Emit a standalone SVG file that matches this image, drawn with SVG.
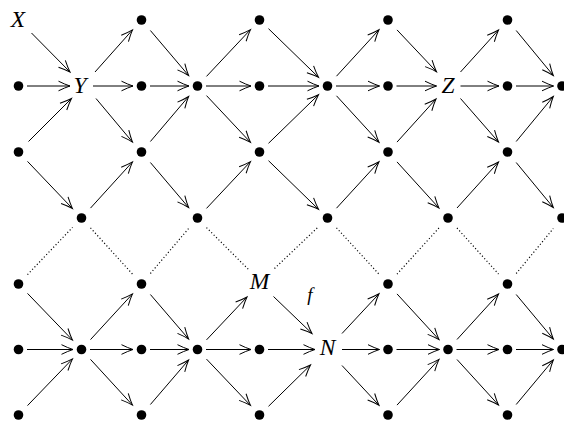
<svg xmlns="http://www.w3.org/2000/svg" width="564" height="421" viewBox="0 0 564 421">
<style>
.e{stroke:#000;stroke-width:1;fill:none;marker-end:url(#ah)}
.d{stroke:#000;stroke-width:1.2;fill:none;stroke-dasharray:1.1 2.3}
.dot{fill:#000}
.lbl{font-family:"Liberation Serif","Times New Roman",serif;font-style:italic;font-size:23.5px;text-anchor:middle;fill:#000}
.sl{font-family:"Liberation Serif","Times New Roman",serif;font-style:italic;font-size:19px;text-anchor:middle;fill:#000}
</style>
<defs>
<marker id="ah" markerUnits="userSpaceOnUse" viewBox="-13 -7 15 14" markerWidth="15" markerHeight="14" refX="0" refY="0" orient="auto">
<path d="M-11.5,-4.8 Q-5,-1.6 0,0 Q-5,1.6 -11.5,4.8" fill="none" stroke="#000" stroke-width="1"/>
</marker>
</defs>
<g id="connectors">
<line class="e" x1="31.5" y1="33" x2="70" y2="72"/>
<line class="e" x1="27" y1="86" x2="70" y2="86"/>
<line class="e" x1="28.5" y1="141.5" x2="71.5" y2="98.5"/>
<line class="e" x1="95" y1="72" x2="132.5" y2="29.9"/>
<line class="e" x1="93" y1="86" x2="133" y2="86"/>
<line class="e" x1="96" y1="98.5" x2="132.5" y2="142.1"/>
<line class="e" x1="150.4" y1="30.5" x2="188.6" y2="75.5"/>
<line class="e" x1="150" y1="86" x2="189" y2="86"/>
<line class="e" x1="150.4" y1="141.5" x2="188.6" y2="96.5"/>
<line class="e" x1="206.5" y1="76.4" x2="250.5" y2="29.6"/>
<line class="e" x1="206" y1="86" x2="251" y2="86"/>
<line class="e" x1="206.5" y1="95.6" x2="250.5" y2="142.4"/>
<line class="e" x1="268.5" y1="28.7" x2="318.5" y2="77.3"/>
<line class="e" x1="268" y1="86" x2="319" y2="86"/>
<line class="e" x1="268.5" y1="143.3" x2="318.5" y2="94.7"/>
<line class="e" x1="336.5" y1="76.2" x2="379" y2="29.8"/>
<line class="e" x1="336" y1="86" x2="379.5" y2="86"/>
<line class="e" x1="336.5" y1="95.8" x2="379" y2="142.2"/>
<line class="e" x1="397" y1="29.9" x2="436.5" y2="71.7"/>
<line class="e" x1="396.5" y1="86" x2="436.5" y2="86"/>
<line class="e" x1="397" y1="142.1" x2="436" y2="99"/>
<line class="e" x1="460.5" y1="72" x2="498.5" y2="30"/>
<line class="e" x1="460.5" y1="86" x2="499" y2="86"/>
<line class="e" x1="460.5" y1="98.5" x2="498.5" y2="142"/>
<line class="e" x1="516.2" y1="30.5" x2="553.3" y2="75.5"/>
<line class="e" x1="516" y1="86" x2="553.5" y2="86"/>
<line class="e" x1="516.2" y1="141.5" x2="553.3" y2="96.5"/>
<line class="e" x1="27.5" y1="161.4" x2="72.5" y2="208.6"/>
<line class="e" x1="90.5" y1="208.1" x2="132.5" y2="161.9"/>
<line class="e" x1="150.4" y1="162.5" x2="188.6" y2="207.5"/>
<line class="e" x1="206.5" y1="208.4" x2="250.5" y2="161.6"/>
<line class="e" x1="268.5" y1="160.7" x2="318.5" y2="209.3"/>
<line class="e" x1="336.5" y1="208.2" x2="379" y2="161.8"/>
<line class="e" x1="397" y1="161.9" x2="439" y2="208.1"/>
<line class="e" x1="457" y1="208" x2="498.5" y2="162"/>
<line class="e" x1="516.2" y1="162.5" x2="553.3" y2="207.5"/>
<line class="d" x1="27.5" y1="274.6" x2="72.5" y2="227.4"/>
<line class="d" x1="90.5" y1="227.9" x2="132.5" y2="274.1"/>
<line class="d" x1="150.4" y1="273.5" x2="188.6" y2="228.5"/>
<line class="d" x1="206.5" y1="227.6" x2="248.5" y2="269.5"/>
<line class="d" x1="274.5" y1="268.5" x2="318.5" y2="226.7"/>
<line class="d" x1="336.5" y1="227.8" x2="379" y2="274.2"/>
<line class="d" x1="397" y1="274.1" x2="439" y2="227.9"/>
<line class="d" x1="457" y1="228" x2="498.5" y2="274"/>
<line class="d" x1="516.2" y1="273.5" x2="553.3" y2="228.5"/>
<line class="e" x1="27.5" y1="293.4" x2="72.5" y2="340.1"/>
<line class="e" x1="27" y1="349.5" x2="73" y2="349.5"/>
<line class="e" x1="27.5" y1="405.6" x2="72.5" y2="358.9"/>
<line class="e" x1="90.5" y1="339.6" x2="132.5" y2="293.9"/>
<line class="e" x1="90" y1="349.5" x2="133" y2="349.5"/>
<line class="e" x1="90.5" y1="359.4" x2="132.5" y2="405.1"/>
<line class="e" x1="150.4" y1="294.5" x2="188.6" y2="339"/>
<line class="e" x1="150" y1="349.5" x2="189" y2="349.5"/>
<line class="e" x1="150.4" y1="404.5" x2="188.6" y2="360"/>
<line class="e" x1="206.5" y1="339.9" x2="247" y2="297"/>
<line class="e" x1="206" y1="349.5" x2="251" y2="349.5"/>
<line class="e" x1="206.5" y1="359.1" x2="250.5" y2="405.4"/>
<line class="e" x1="273.5" y1="296.5" x2="312" y2="333.5"/>
<line class="e" x1="268" y1="349.5" x2="315" y2="349.5"/>
<line class="e" x1="268.5" y1="406.3" x2="310.5" y2="365"/>
<line class="e" x1="342" y1="333.5" x2="379" y2="293.8"/>
<line class="e" x1="342" y1="349.5" x2="379.5" y2="349.5"/>
<line class="e" x1="342" y1="365.5" x2="379" y2="405.2"/>
<line class="e" x1="397" y1="293.9" x2="439" y2="339.6"/>
<line class="e" x1="396.5" y1="349.5" x2="439.5" y2="349.5"/>
<line class="e" x1="397" y1="405.1" x2="439" y2="359.4"/>
<line class="e" x1="457" y1="339.5" x2="498.5" y2="294"/>
<line class="e" x1="456.5" y1="349.5" x2="499" y2="349.5"/>
<line class="e" x1="457" y1="359.5" x2="498.5" y2="405"/>
<line class="e" x1="516.2" y1="294.5" x2="553.3" y2="339"/>
<line class="e" x1="516" y1="349.5" x2="553.5" y2="349.5"/>
<line class="e" x1="516.2" y1="404.5" x2="553.3" y2="360"/>
<text class="sl" x="310" y="301">f</text>
</g>
<g id="nodes">
<g id="X"><text class="lbl" x="18" y="26.5">X</text></g>
<g id="n02"><circle class="dot" cx="141.5" cy="20" r="4.8"/></g>
<g id="n04"><circle class="dot" cx="259.5" cy="20" r="4.8"/></g>
<g id="n06"><circle class="dot" cx="388" cy="20" r="4.8"/></g>
<g id="n08"><circle class="dot" cx="507.5" cy="20" r="4.8"/></g>
<g id="n10"><circle class="dot" cx="18.5" cy="86" r="4.8"/></g>
<g id="Y"><text class="lbl" x="80" y="93">Y</text></g>
<g id="n12"><circle class="dot" cx="141.5" cy="86" r="4.8"/></g>
<g id="n13"><circle class="dot" cx="197.5" cy="86" r="4.8"/></g>
<g id="n14"><circle class="dot" cx="259.5" cy="86" r="4.8"/></g>
<g id="n15"><circle class="dot" cx="327.5" cy="86" r="4.8"/></g>
<g id="n16"><circle class="dot" cx="388" cy="86" r="4.8"/></g>
<g id="Z"><text class="lbl" x="448" y="93">Z</text></g>
<g id="n18"><circle class="dot" cx="507.5" cy="86" r="4.8"/></g>
<g id="n19"><circle class="dot" cx="562" cy="86" r="4.8"/></g>
<g id="n20"><circle class="dot" cx="18.5" cy="152" r="4.8"/></g>
<g id="n22"><circle class="dot" cx="141.5" cy="152" r="4.8"/></g>
<g id="n24"><circle class="dot" cx="259.5" cy="152" r="4.8"/></g>
<g id="n26"><circle class="dot" cx="388" cy="152" r="4.8"/></g>
<g id="n28"><circle class="dot" cx="507.5" cy="152" r="4.8"/></g>
<g id="n31"><circle class="dot" cx="81.5" cy="218" r="4.8"/></g>
<g id="n33"><circle class="dot" cx="197.5" cy="218" r="4.8"/></g>
<g id="n35"><circle class="dot" cx="327.5" cy="218" r="4.8"/></g>
<g id="n37"><circle class="dot" cx="448" cy="218" r="4.8"/></g>
<g id="n39"><circle class="dot" cx="562" cy="218" r="4.8"/></g>
<g id="n40"><circle class="dot" cx="18.5" cy="284" r="4.8"/></g>
<g id="n42"><circle class="dot" cx="141.5" cy="284" r="4.8"/></g>
<g id="M"><text class="lbl" x="259.5" y="289">M</text></g>
<g id="n46"><circle class="dot" cx="388" cy="284" r="4.8"/></g>
<g id="n48"><circle class="dot" cx="507.5" cy="284" r="4.8"/></g>
<g id="n50"><circle class="dot" cx="18.5" cy="349.5" r="4.8"/></g>
<g id="n51"><circle class="dot" cx="81.5" cy="349.5" r="4.8"/></g>
<g id="n52"><circle class="dot" cx="141.5" cy="349.5" r="4.8"/></g>
<g id="n53"><circle class="dot" cx="197.5" cy="349.5" r="4.8"/></g>
<g id="n54"><circle class="dot" cx="259.5" cy="349.5" r="4.8"/></g>
<g id="N"><text class="lbl" x="327.5" y="355">N</text></g>
<g id="n56"><circle class="dot" cx="388" cy="349.5" r="4.8"/></g>
<g id="n57"><circle class="dot" cx="448" cy="349.5" r="4.8"/></g>
<g id="n58"><circle class="dot" cx="507.5" cy="349.5" r="4.8"/></g>
<g id="n59"><circle class="dot" cx="562" cy="349.5" r="4.8"/></g>
<g id="n60"><circle class="dot" cx="18.5" cy="415" r="4.8"/></g>
<g id="n62"><circle class="dot" cx="141.5" cy="415" r="4.8"/></g>
<g id="n64"><circle class="dot" cx="259.5" cy="415" r="4.8"/></g>
<g id="n66"><circle class="dot" cx="388" cy="415" r="4.8"/></g>
<g id="n68"><circle class="dot" cx="507.5" cy="415" r="4.8"/></g>
</g>
</svg>
